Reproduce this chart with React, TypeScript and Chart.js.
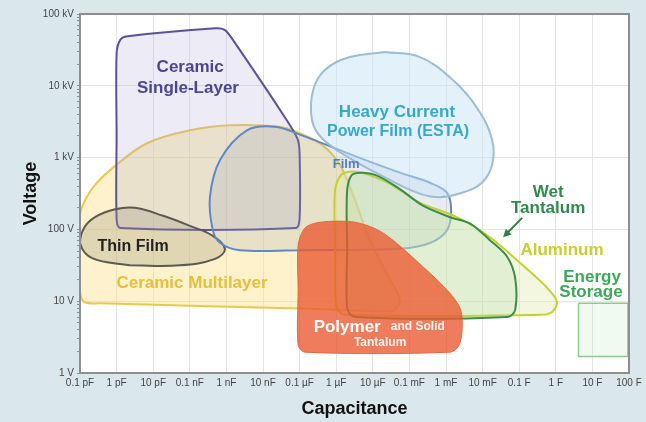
import React, { useEffect, useRef } from 'react';
import { Chart, registerables } from 'chart.js';

Chart.register(...registerables);

// Axes are in log10 units: x = log10(capacitance in F), y = log10(voltage in V)
const xTickValues = [-13, -12, -11, -10, -9, -8, -7, -6, -5, -4, -3, -2, -1, 0, 1, 2];
const xTickLabels = ['0.1 pF', '1 pF', '10 pF', '0.1 nF', '1 nF', '10 nF', '0.1 µF', '1 µF', '10 µF', '0.1 mF', '1 mF', '10 mF', '0.1 F', '1 F', '10 F', '100 F'];
const yTickValues = [0, 1, 2, 3, 4, 5];
const yTickLabels = ['1 V', '10 V', '100 V', '1 kV', '10 kV', '100 kV'];
const yMinorMultipliers = [2, 3, 4, 5, 6, 7, 8, 9];

type Pt = [number, number];

const ceramicMultilayer: Pt[] = [
  [-13, 1.7], [-13, 2.2], [-12.86, 2.41], [-12.59, 2.62], [-12.1, 2.86], [-11.17, 3.2], [-10, 3.38],
  [-8.9, 3.45], [-7.55, 3.43], [-7, 3.34], [-6.39, 3.18], [-5.9, 2.9], [-5.49, 2.41], [-5.08, 1.85],
  [-4.53, 1.3], [-4.26, 1.02], [-4.4, 0.88], [-4.7, 0.86], [-7, 0.9], [-12.45, 0.97], [-12.89, 0.99],
  [-13, 1.15], [-13, 1.7],
];
const ceramicSingleLayer: Pt[] = [
  [-12, 3.3], [-12, 4.45], [-11.9, 4.64], [-11.7, 4.69], [-9.3, 4.8], [-9.05, 4.78], [-8.85, 4.66],
  [-7.35, 3.52], [-7.05, 3.25], [-7, 3.05], [-7, 2.15], [-7.1, 2.02], [-11.9, 2.02], [-12, 2.15], [-12, 3.3],
];
const thinFilm: Pt[] = [
  [-11.63, 1.5], [-12.67, 1.6], [-13, 1.81], [-12.89, 2.02], [-12.59, 2.17], [-12.04, 2.28], [-11.5, 2.3],
  [-10.73, 2.19], [-10, 2.05], [-9.37, 1.91], [-9.04, 1.73], [-9.31, 1.59], [-10.27, 1.5], [-11.63, 1.5],
];
const film: Pt[] = [
  [-7, 1.71], [-8.63, 1.71], [-9.17, 1.81], [-9.37, 1.99], [-9.45, 2.45], [-9.17, 2.97], [-8.44, 3.38],
  [-7.67, 3.43], [-6.99, 3.32], [-5.43, 3.01], [-4.26, 2.79], [-3.44, 2.65], [-2.97, 2.51], [-2.86, 2.27],
  [-2.97, 1.99], [-3.44, 1.81], [-4.26, 1.73], [-7, 1.71],
];
const heavyCurrentFilm: Pt[] = [
  [-4.67, 4.47], [-3.71, 4.4], [-2.81, 4.08], [-2.15, 3.69], [-1.74, 3.25], [-1.74, 2.9], [-2.02, 2.65],
  [-2.56, 2.51], [-3.3, 2.45], [-3.98, 2.55], [-4.8, 2.76], [-5.62, 2.99], [-6.39, 3.27], [-6.66, 3.52],
  [-6.63, 3.94], [-6.31, 4.22], [-5.62, 4.4], [-4.67, 4.47],
];
const aluminum: Pt[] = [
  [-6.03, 1.71], [-6.03, 2.55], [-5.84, 2.77], [-5.4, 2.8], [-4.6, 2.65], [-3.71, 2.37], [-2.7, 2.17],
  [-1.8, 1.89], [-0.9, 1.5], [-0.3, 1.22], [0.03, 1.0], [-0.1, 0.85], [-0.43, 0.81], [-5.76, 0.81],
  [-6.0, 0.93], [-6.03, 1.71],
];
const wetTantalum: Pt[] = [
  [-5.7, 1.71], [-5.7, 2.55], [-5.54, 2.77], [-4.94, 2.76], [-4.26, 2.56], [-3.63, 2.33], [-2.89, 2.17],
  [-2.34, 2.08], [-1.8, 1.85], [-1.33, 1.62], [-1.11, 1.32], [-1.11, 0.88], [-1.31, 0.78], [-5.49, 0.78],
  [-5.7, 0.9], [-5.7, 1.71],
];
const polymerTantalum: Pt[] = [
  [-7.04, 1.16], [-7.04, 1.78], [-6.85, 2.02], [-6.44, 2.1], [-5.49, 2.1], [-4.72, 1.95], [-3.63, 1.48],
  [-2.89, 1.11], [-2.6, 0.88], [-2.56, 0.6], [-2.65, 0.38], [-2.89, 0.29], [-6.85, 0.29], [-7.04, 0.39],
  [-7.04, 1.16],
];
const energyStorage: Pt[] = [
  [0.62, 0.97], [1.97, 0.97], [1.97, 0.23], [0.62, 0.23], [0.62, 0.97],
];

const FONT = "'Liberation Sans', Arial, Helvetica, sans-serif";

const shapeStyles = [
  { name: 'Ceramic Multilayer', pts: ceramicMultilayer, border: '#e8c94e', fill: 'rgba(251,226,140,0.45)', width: 2, tension: 0.35, order: 9 },
  { name: 'Ceramic Single-Layer', pts: ceramicSingleLayer, border: '#5a5397', fill: 'rgba(170,165,215,0.22)', width: 2, tension: 0.3, order: 8 },
  { name: 'Thin Film', pts: thinFilm, border: '#5c5a50', fill: 'rgba(160,150,130,0.3)', width: 2, tension: 0.4, order: 7 },
  { name: 'Film', pts: film, border: '#6188c4', fill: 'rgba(150,165,185,0.22)', width: 2, tension: 0.35, order: 6 },
  { name: 'Heavy Current Power Film (ESTA)', pts: heavyCurrentFilm, border: '#9dbdd2', fill: 'rgba(200,228,248,0.5)', width: 2, tension: 0.4, order: 5 },
  { name: 'Aluminum', pts: aluminum, border: '#c6cf2c', fill: 'rgba(225,235,175,0.4)', width: 2, tension: 0.3, order: 4 },
  { name: 'Wet Tantalum', pts: wetTantalum, border: '#3b8d48', fill: 'rgba(170,215,175,0.25)', width: 2, tension: 0.3, order: 3 },
  { name: 'Polymer and Solid Tantalum', pts: polymerTantalum, border: 'rgba(232,95,55,0.9)', fill: 'rgba(234,88,48,0.78)', width: 1, tension: 0.3, order: 2 },
  { name: 'Energy Storage', pts: energyStorage, border: '#8ccb8c', fill: 'rgba(210,240,210,0.3)', width: 1.5, tension: 0, order: 1 },
];

const shapeLabels = [
  { text: 'Ceramic', x: -9.99, y: 4.262, color: '#4c4690', size: 17 },
  { text: 'Single-Layer', x: -10.05, y: 3.969, color: '#4c4690', size: 17 },
  { text: 'Heavy Current', x: -4.34, y: 3.635, color: '#35a9c9', size: 17 },
  { text: 'Power Film (ESTA)', x: -4.31, y: 3.357, color: '#35a9c9', size: 16 },
  { text: 'Film', x: -5.73, y: 2.911, color: '#4d7fc4', size: 13 },
  { text: 'Thin Film', x: -11.55, y: 1.755, color: '#222222', size: 16 },
  { text: 'Ceramic Multilayer', x: -9.94, y: 1.253, color: '#e6bf3c', size: 17 },
  { text: 'Polymer', x: -5.7, y: 0.641, color: '#ffffff', size: 17 },
  { text: 'and Solid', x: -3.77, y: 0.641, color: '#fff3ee', size: 12 },
  { text: 'Tantalum', x: -4.8, y: 0.418, color: '#fff3ee', size: 12 },
  { text: 'Wet', x: -0.21, y: 2.521, color: '#2f8b4d', size: 17 },
  { text: 'Tantalum', x: -0.21, y: 2.298, color: '#2f8b4d', size: 17 },
  { text: 'Aluminum', x: 0.17, y: 1.713, color: '#c8cf2f', size: 17 },
  { text: 'Energy', x: 0.99, y: 1.337, color: '#3aaa58', size: 17 },
  { text: 'Storage', x: 0.96, y: 1.128, color: '#3aaa58', size: 17 },
];

const wetTantalumArrow = { from: [-0.92, 2.16] as Pt, to: [-1.44, 1.89] as Pt, color: '#2f7f45' };

const backgroundPlugin = {
  id: 'bg',
  beforeDraw(chart: any) {
    const { ctx, width, height, chartArea } = chart;
    ctx.save();
    ctx.fillStyle = '#dbe8eb';
    ctx.fillRect(0, 0, width, height);
    ctx.fillStyle = '#ffffff';
    ctx.fillRect(chartArea.left, chartArea.top, chartArea.right - chartArea.left, chartArea.bottom - chartArea.top);
    ctx.restore();
  },
};

const labelPlugin = {
  id: 'shapeLabels',
  afterDatasetsDraw(chart: any) {
    const { ctx, scales } = chart;
    const xs = scales.x;
    const ys = scales.y;
    ctx.save();
    ctx.textAlign = 'center';
    ctx.textBaseline = 'middle';
    for (const l of shapeLabels) {
      ctx.font = `bold ${l.size}px ${FONT}`;
      ctx.fillStyle = l.color;
      ctx.fillText(l.text, xs.getPixelForValue(l.x), ys.getPixelForValue(l.y));
    }
    const x1 = xs.getPixelForValue(wetTantalumArrow.from[0]);
    const y1 = ys.getPixelForValue(wetTantalumArrow.from[1]);
    const x2 = xs.getPixelForValue(wetTantalumArrow.to[0]);
    const y2 = ys.getPixelForValue(wetTantalumArrow.to[1]);
    const ang = Math.atan2(y2 - y1, x2 - x1);
    ctx.strokeStyle = wetTantalumArrow.color;
    ctx.fillStyle = wetTantalumArrow.color;
    ctx.lineWidth = 2;
    ctx.beginPath();
    ctx.moveTo(x1, y1);
    ctx.lineTo(x2 - 5 * Math.cos(ang), y2 - 5 * Math.sin(ang));
    ctx.stroke();
    ctx.beginPath();
    ctx.moveTo(x2, y2);
    ctx.lineTo(x2 - 8 * Math.cos(ang) + 4 * Math.sin(ang), y2 - 8 * Math.sin(ang) - 4 * Math.cos(ang));
    ctx.lineTo(x2 - 8 * Math.cos(ang) - 4 * Math.sin(ang), y2 - 8 * Math.sin(ang) + 4 * Math.cos(ang));
    ctx.closePath();
    ctx.fill();
    ctx.restore();
  },
  afterDraw(chart: any) {
    const { ctx, chartArea } = chart;
    ctx.save();
    ctx.strokeStyle = '#8e8e8e';
    ctx.lineWidth = 2;
    ctx.strokeRect(chartArea.left, chartArea.top, chartArea.right - chartArea.left, chartArea.bottom - chartArea.top);
    ctx.restore();
  },
};

export default function App() {
  const ref = useRef<HTMLCanvasElement | null>(null);

  useEffect(() => {
    if (!ref.current) return;
    const yAllTicks: number[] = [];
    for (let d = 0; d < 5; d++) {
      yAllTicks.push(yTickValues[d]);
      for (const m of yMinorMultipliers) yAllTicks.push(yTickValues[d] + Math.log10(m));
    }
    yAllTicks.push(yTickValues[5]);

    const chart = new Chart(ref.current, {
      type: 'line',
      data: {
        datasets: shapeStyles.map((s) => ({
          label: s.name,
          data: s.pts.map(([x, y]) => ({ x, y })),
          borderColor: s.border,
          backgroundColor: s.fill,
          borderWidth: s.width,
          tension: s.tension,
          fill: 'shape',
          pointRadius: 0,
          pointHoverRadius: 0,
          order: s.order,
          borderJoinStyle: 'round',
        })) as any,
      },
      options: {
        responsive: false,
        animation: false,
        events: [],
        layout: { padding: { top: 14, right: 17, left: 0, bottom: 0 } },
        plugins: {
          legend: { display: false },
          tooltip: { enabled: false },
        },
        scales: {
          x: {
            type: 'linear',
            min: -13,
            max: 2,
            afterBuildTicks: (s: any) => {
              s.ticks = xTickValues.map((v) => ({ value: v }));
            },
            afterFit: (s: any) => {
              s.height = 49;
            },
            ticks: {
              autoSkip: false,
              maxRotation: 0,
              minRotation: 0,
              padding: 4,
              color: '#444444',
              font: { size: 10, family: FONT },
              callback: (_v: any, i: number) => xTickLabels[i],
            },
            grid: { color: '#e4e4e4', drawTicks: false },
            border: { display: false },
            title: {
              display: true,
              text: 'Capacitance',
              color: '#111111',
              font: { size: 18, weight: 'bold', family: FONT },
              padding: { top: 0, bottom: 2 },
            },
          },
          y: {
            type: 'linear',
            min: 0,
            max: 5,
            afterBuildTicks: (s: any) => {
              s.ticks = yAllTicks.map((v) => ({ value: v }));
            },
            afterFit: (s: any) => {
              s.width = 80;
            },
            ticks: {
              autoSkip: false,
              padding: 3,
              color: '#444444',
              font: { size: 10, family: FONT },
              callback: (v: any) => {
                const i = yTickValues.indexOf(v);
                return i >= 0 ? yTickLabels[i] : '';
              },
            },
            grid: {
              color: (c: any) => (c.tick && Number.isInteger(c.tick.value) ? '#e4e4e4' : 'rgba(0,0,0,0)'),
              tickColor: '#909090',
              tickLength: 3,
              drawTicks: true,
            },
            border: { display: false },
            title: {
              display: true,
              text: 'Voltage',
              color: '#111111',
              font: { size: 18, weight: 'bold', family: FONT },
              padding: { top: 20, bottom: 0 },
            },
          },
        },
      } as any,
      plugins: [backgroundPlugin, labelPlugin],
    });
    return () => chart.destroy();
  }, []);

  return (
    <div style={{ position: 'fixed', left: 0, top: 0, width: 646, height: 422, background: '#dbe8eb' }}>
      <canvas ref={ref} width={646} height={422} style={{ display: 'block', width: 646, height: 422 }} />
    </div>
  );
}
